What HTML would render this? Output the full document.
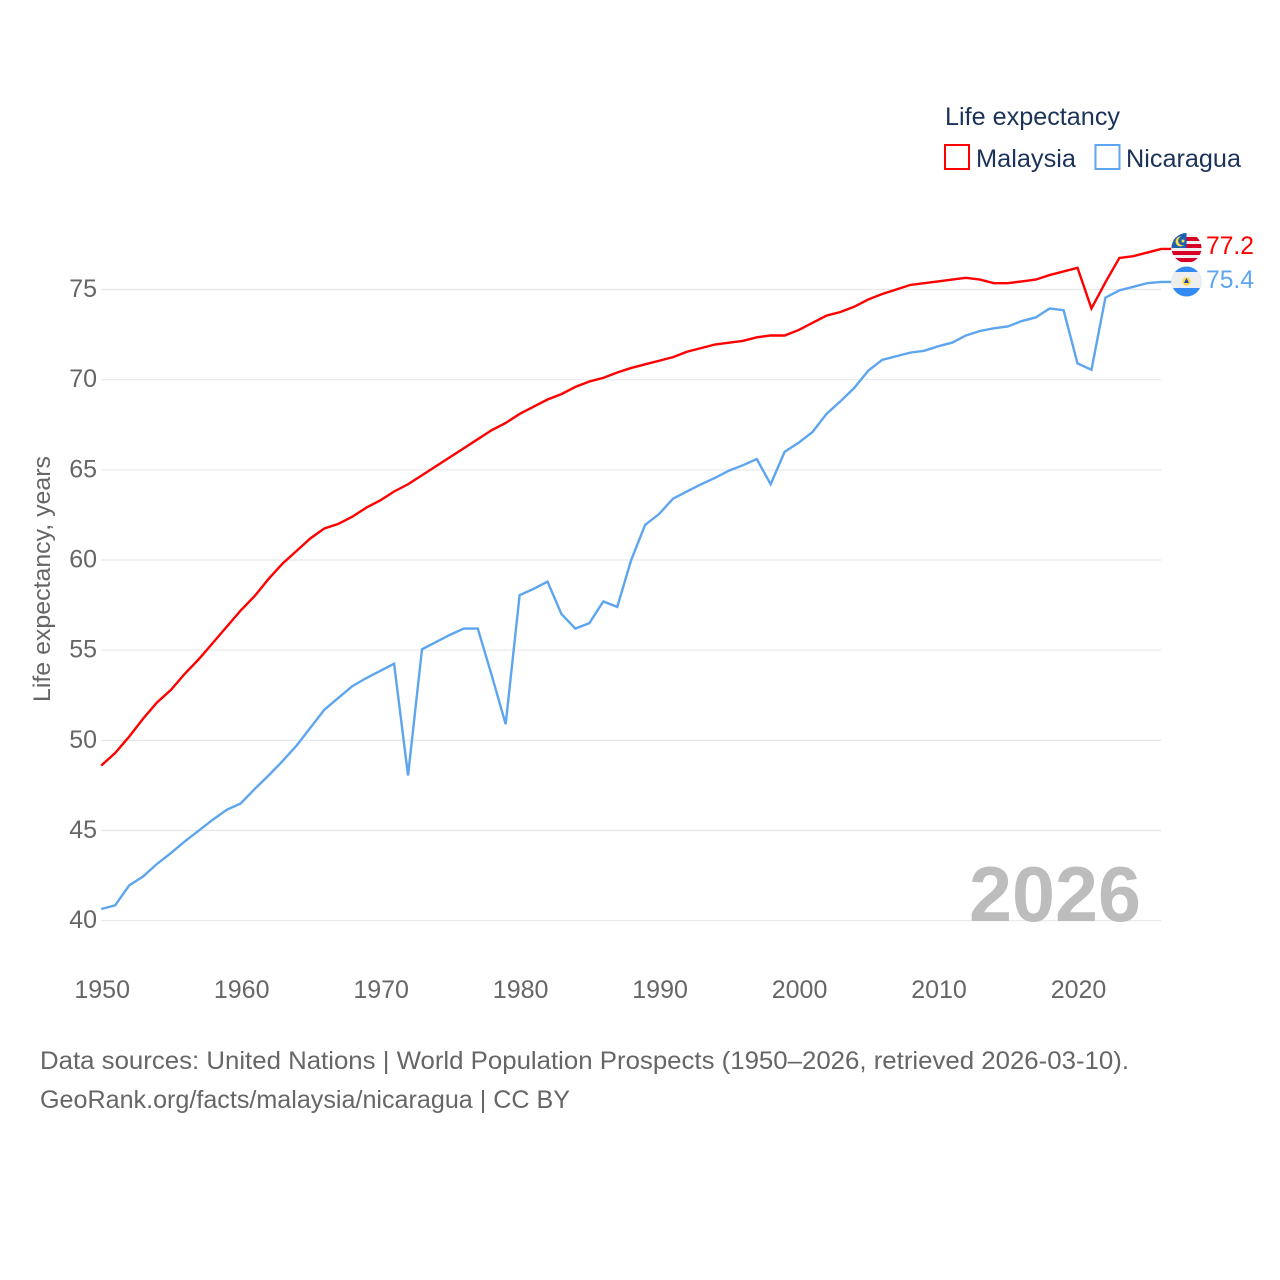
<!DOCTYPE html>
<html lang="en">
<head>
<meta charset="utf-8">
<title>Life expectancy: Malaysia and Nicaragua</title>
<style>
html,body{margin:0;padding:0;background:#fff;width:1280px;height:1280px;overflow:hidden}
svg{display:block;font-family:"Liberation Sans",sans-serif}
</style>
</head>
<body>
<svg id="chart" width="1280" height="1280" viewBox="0 0 1280 1280" xmlns="http://www.w3.org/2000/svg">
  <defs>
    <clipPath id="clip-my"><circle cx="1186.5" cy="248" r="15"/></clipPath>
    <clipPath id="clip-ni"><circle cx="1186.5" cy="281.5" r="15"/></clipPath>
  </defs>
  <rect width="1280" height="1280" fill="#fff"/>
  <g id="grid"></g>
  <g id="yticks"></g>
  <g id="xticks"></g>
  <text transform="translate(50,579) rotate(-90)" text-anchor="middle" font-size="24" fill="#666666" textLength="246" lengthAdjust="spacingAndGlyphs">Life expectancy, years</text>
  <text x="969" y="921" font-size="78" font-weight="700" fill="#bdbdbd" textLength="172" lengthAdjust="spacingAndGlyphs">2026</text>
  <g id="series"></g>

  <g clip-path="url(#clip-my)">
    <rect x="1171" y="233" width="31" height="31" fill="#eeeeee"/>
    <rect x="1171" y="237" width="31" height="4" fill="#d80027"/>
    <rect x="1171" y="244" width="31" height="4" fill="#d80027"/>
    <rect x="1171" y="251" width="31" height="4" fill="#d80027"/>
    <rect x="1171" y="258" width="31" height="4" fill="#d80027"/>
    <rect x="1171" y="233" width="15.5" height="15" fill="#1f5fb0"/>
    <circle cx="1180.5" cy="241.5" r="5" fill="#ffda44"/>
    <circle cx="1182.5" cy="240.8" r="4.4" fill="#1f5fb0"/>
    <circle cx="1183" cy="241" r="1.5" fill="#ffda44"/>
  </g>
  <g clip-path="url(#clip-ni)">
    <rect x="1171" y="266" width="31" height="31" fill="#338af3"/>
    <rect x="1171" y="272" width="31" height="16" fill="#eeeeee"/>
    <circle cx="1186.5" cy="281.5" r="4.2" fill="#ffda44"/>
    <path d="M1186.5 278 L1189 283 L1184 283 Z" fill="#1a47b8"/>
  </g>
  <text x="1206" y="254" font-size="25" fill="#ff0000" textLength="48" lengthAdjust="spacingAndGlyphs">77.2</text>
  <text x="1206" y="288" font-size="25" fill="#5da5ee" textLength="48" lengthAdjust="spacingAndGlyphs">75.4</text>

  <g>
    <text x="945" y="125" font-size="25" fill="#1b3358" textLength="175" lengthAdjust="spacingAndGlyphs">Life expectancy</text>
    <rect x="945" y="145" width="24" height="24" fill="#fff" stroke="#ff0000" stroke-width="2"/>
    <text x="976" y="167" font-size="25" fill="#1b3358" textLength="100" lengthAdjust="spacingAndGlyphs">Malaysia</text>
    <rect x="1095.5" y="145" width="24" height="24" fill="#fff" stroke="#5da5ee" stroke-width="2"/>
    <text x="1126" y="167" font-size="25" fill="#1b3358" textLength="115" lengthAdjust="spacingAndGlyphs">Nicaragua</text>
  </g>

  <text x="40" y="1069" font-size="25" fill="#666666" textLength="1089" lengthAdjust="spacingAndGlyphs">Data sources: United Nations | World Population Prospects (1950–2026, retrieved 2026-03-10).</text>
  <text x="40" y="1108" font-size="25" fill="#666666" textLength="530" lengthAdjust="spacingAndGlyphs">GeoRank.org/facts/malaysia/nicaragua | CC BY</text>
</svg>
<script>
const startYear = 1950;
const yTickValues = [40, 45, 50, 55, 60, 65, 70, 75];
const xTickValues = [1950, 1960, 1970, 1980, 1990, 2000, 2010, 2020];
const malaysiaValues = [
  48.6, 49.3, 50.2, 51.2, 52.1, 52.8, 53.7, 54.5, 55.4, 56.3,
  57.2, 58.0, 58.95, 59.8, 60.5, 61.2, 61.75, 62.0, 62.4, 62.9,
  63.3, 63.8, 64.2, 64.7, 65.2, 65.7, 66.2, 66.7, 67.2, 67.6,
  68.1, 68.5, 68.9, 69.2, 69.6, 69.9, 70.1, 70.4, 70.65, 70.85,
  71.05, 71.25, 71.55, 71.75, 71.95, 72.05, 72.15, 72.35, 72.45, 72.45,
  72.75, 73.15, 73.55, 73.75, 74.05, 74.45, 74.75, 75.0, 75.25, 75.35,
  75.45, 75.55, 75.65, 75.55, 75.35, 75.35, 75.45, 75.55, 75.8, 76.0,
  76.2, 73.95, 75.4, 76.75, 76.85, 77.05, 77.25
];
const nicaraguaValues = [
  40.65, 40.85, 41.95, 42.45, 43.15, 43.75, 44.4, 45.0, 45.6, 46.15,
  46.5, 47.3, 48.05, 48.85, 49.7, 50.7, 51.7, 52.35, 53.0, 53.45,
  53.85, 54.25, 48.05, 55.05, 55.45, 55.85, 56.2, 56.2, 53.6, 50.9,
  58.05, 58.4, 58.8, 57.0, 56.2, 56.5, 57.7, 57.4, 60.0, 61.95,
  62.55, 63.4, 63.8, 64.2, 64.55, 64.95, 65.25, 65.6, 64.2, 66.0,
  66.5, 67.1, 68.1, 68.8, 69.55, 70.5, 71.1, 71.3, 71.5, 71.6,
  71.85, 72.05, 72.45, 72.7, 72.85, 72.95, 73.25, 73.45, 73.95, 73.85,
  70.9, 70.55, 74.55, 74.95, 75.15, 75.35, 75.42
];

const NS = 'http://www.w3.org/2000/svg';
const xScale = function (year) { return 101.2 + (year - 1950) * (1161.2 - 101.2) / 76; };
const yScale = function (value) { return 920.7 - (value - 40) * (920.7 - 289.5) / 35; };

const grid = document.getElementById('grid');
const yticks = document.getElementById('yticks');
const xticks = document.getElementById('xticks');
const series = document.getElementById('series');

yTickValues.forEach(function (v) {
  const line = document.createElementNS(NS, 'line');
  
  
  line.setAttribute('x1', xScale(1950));
  line.setAttribute('x2', xScale(2026));
  line.setAttribute('y1', yScale(v));
  line.setAttribute('y2', yScale(v));
  line.setAttribute('stroke', '#e8e8e8');
  line.setAttribute('stroke-width', '1.2');
  grid.appendChild(line);

  const label = document.createElementNS(NS, 'text');
  
  
  label.setAttribute('x', 97);
  label.setAttribute('y', yScale(v) + 7.5);
  label.setAttribute('text-anchor', 'end');
  label.setAttribute('font-size', '25');
  label.setAttribute('fill', '#666666');
  label.textContent = String(v);
  yticks.appendChild(label);
});

xTickValues.forEach(function (v) {
  const label = document.createElementNS(NS, 'text');
  
  
  label.setAttribute('x', xScale(v) + 1);
  label.setAttribute('y', 998);
  label.setAttribute('text-anchor', 'middle');
  label.setAttribute('font-size', '25');
  label.setAttribute('fill', '#666666');
  label.textContent = String(v);
  xticks.appendChild(label);
});

function linePoints(values) {
  const pts = values.map(function (v, i) {
    return xScale(startYear + i).toFixed(2) + ',' + yScale(v).toFixed(2);
  });
  const last = values[values.length - 1];
  pts.push((xScale(startYear + values.length - 1) + 10).toFixed(2) + ',' + yScale(last).toFixed(2));
  return pts.join(' ');
}

const nicaraguaLine = document.createElementNS(NS, 'polyline');


nicaraguaLine.setAttribute('points', linePoints(nicaraguaValues));
nicaraguaLine.setAttribute('fill', 'none');
nicaraguaLine.setAttribute('stroke', '#5da5ee');
nicaraguaLine.setAttribute('stroke-width', '2.4');
series.appendChild(nicaraguaLine);

const malaysiaLine = document.createElementNS(NS, 'polyline');


malaysiaLine.setAttribute('points', linePoints(malaysiaValues));
malaysiaLine.setAttribute('fill', 'none');
malaysiaLine.setAttribute('stroke', '#ff0000');
malaysiaLine.setAttribute('stroke-width', '2.4');
series.appendChild(malaysiaLine);
</script>
</body>
</html>
